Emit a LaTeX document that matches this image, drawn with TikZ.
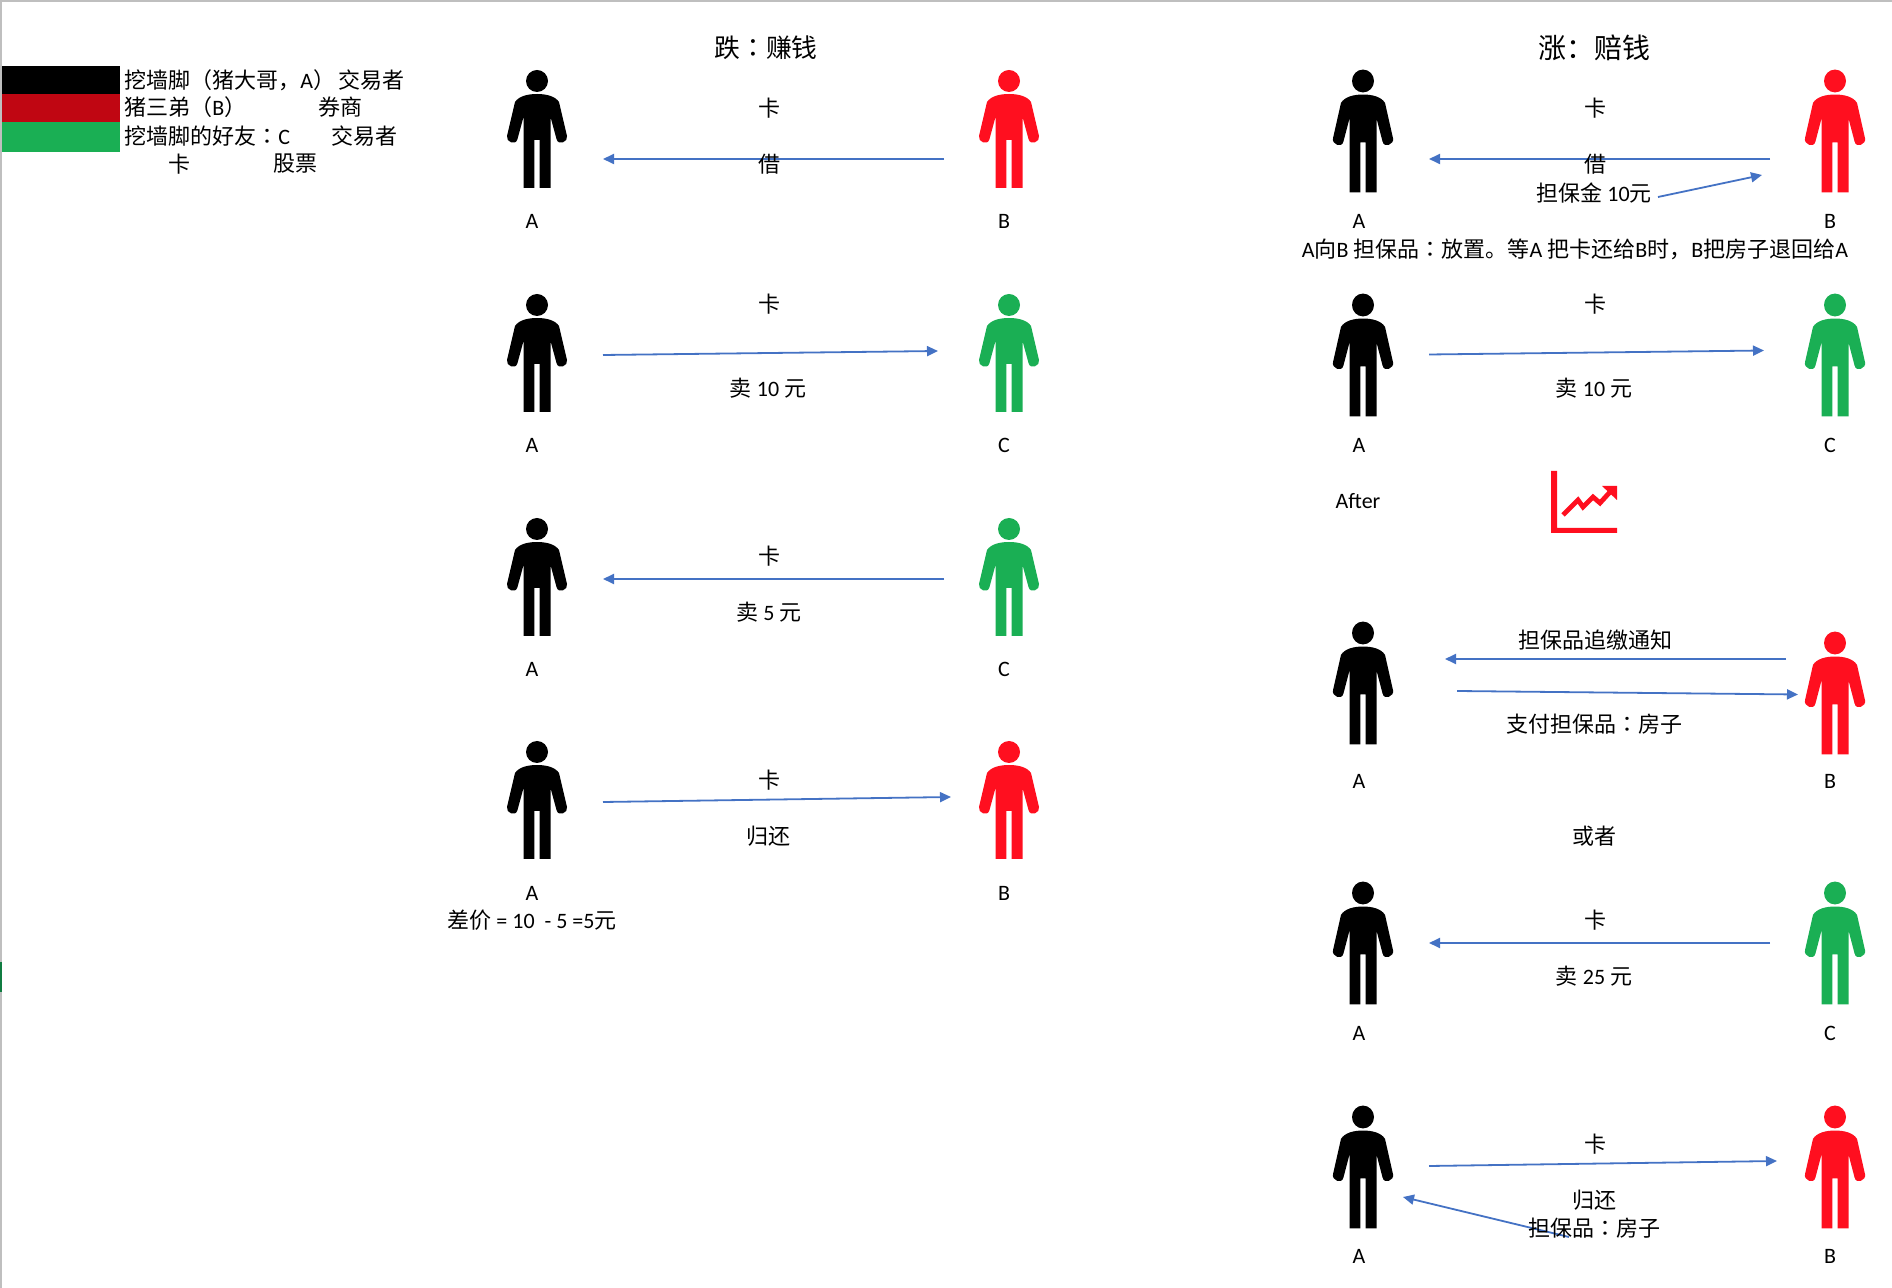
\documentclass[tikz,border=0pt]{standalone}
\usepackage{fontspec}
\setmainfont{Carlito}
\newfontfamily\cjk{Noto Sans CJK SC}
\newfontfamily\cjktc{Noto Sans CJK TC}
\usetikzlibrary{arrows.meta}
\newcommand{\zh}[1]{{\cjk #1}}
\newcommand{\mc}{{\cjktc ：}}
\definecolor{flow}{HTML}{4472C4}
\definecolor{pred}{HTML}{FF0F1F}
\definecolor{pgreen}{HTML}{1AAF54}
\definecolor{bandred}{HTML}{C00612}
\definecolor{edge}{HTML}{BFBFBF}
\definecolor{tick}{HTML}{107C41}
\tikzset{
  person/.pic={
    \path[pic actions] (0,0) ellipse [x radius=5.5pt, y radius=5.5pt];
    \path[pic actions] (0,13) .. controls (-9,13) and (-18,15) .. (-22,21)
      -- (-30,55) .. controls (-31.5,61) and (-21,65) .. (-19.5,58)
      -- (-13.5,36) -- (-13.5,107) -- (-2.7,107) -- (-2.7,59) -- (2.7,59)
      -- (2.7,107) -- (13.5,107) -- (13.5,36) -- (19.5,58)
      .. controls (21,65) and (31.5,61) .. (30,55)
      -- (22,21) .. controls (18,15) and (9,13) .. (0,13) -- cycle;
  },
  flowline/.style={draw=flow, line width=0.9pt, -{Triangle[length=5.5pt,width=5pt]}},
  txt/.style={inner sep=0pt, font=\fontsize{11}{13}\selectfont},
  legendtxt/.style={txt, anchor=west},
  title/.style={inner sep=0pt, font=\fontsize{12.9}{15}\selectfont},
  titleb/.style={inner sep=0pt, font=\fontsize{14}{16}\selectfont},
}
\begin{document}
\begin{tikzpicture}[x=0.5pt,y=-0.5pt]
\useasboundingbox (0,0) rectangle (1892,1288);
% frame edges
\fill[edge] (0,0) rectangle (1892,2);
\fill[edge] (0,0) rectangle (2,1288);
\fill[tick] (0,962) rectangle (2,992);
% legend
\fill[black] (2,66) rectangle (120,94);
\fill[bandred] (2,94) rectangle (120,122);
\fill[pgreen] (2,122) rectangle (120,152);
\node[legendtxt] (l1) at (124,80) {\zh{挖墙脚（猪大哥，}A\zh{）}};
\node[legendtxt] (l1r) at (338,80) {\zh{交易者}};
\node[legendtxt] (l2) at (124,107) {\zh{猪三弟（}B\zh{）}};
\node[legendtxt] (l2r) at (318,107) {\zh{券商}};
\node[legendtxt] (l3) at (124,136) {\zh{挖墙脚的好友}\mc C};
\node[legendtxt] (l3r) at (331,136) {\zh{交易者}};
\node[txt] (l4) at (179,164) {\zh{卡}};
\node[legendtxt] (l4r) at (273,164) {\zh{股票}};
% titles
\node[title] (t1) at (766,48) {\zh{跌}\mc\zh{赚钱}};
\node[titleb] (t2) at (1594,48) {\zh{涨：赔钱}};
% left persons
\pic[fill=black] at (537,81) {person};
\pic[fill=pred] at (1009,81) {person};
\pic[fill=black] at (537,305) {person};
\pic[fill=pgreen] at (1009,305) {person};
\pic[fill=black] at (537,529) {person};
\pic[fill=pgreen] at (1009,529) {person};
\pic[fill=black] at (537,752) {person};
\pic[fill=pred] at (1009,752) {person};
% right persons
\pic[fill=black,yscale=1.04] at (1363,81) {person};
\pic[fill=pred,yscale=1.04] at (1835,81) {person};
\pic[fill=black,yscale=1.04] at (1363,305) {person};
\pic[fill=pgreen,yscale=1.04] at (1835,305) {person};
\pic[fill=black,yscale=1.04] at (1363,633) {person};
\pic[fill=pred,yscale=1.04] at (1835,643) {person};
\pic[fill=black,yscale=1.04] at (1363,893) {person};
\pic[fill=pgreen,yscale=1.04] at (1835,893) {person};
\pic[fill=black,yscale=1.04] at (1363,1117) {person};
\pic[fill=pred,yscale=1.04] at (1835,1117) {person};
% arrow end points
\coordinate (a1s) at (944,159); \coordinate (a1e) at (603,159);
\coordinate (a2s) at (603,355); \coordinate (a2e) at (938,351);
\coordinate (a3s) at (944,579); \coordinate (a3e) at (603,579);
\coordinate (a4s) at (603,802); \coordinate (a4e) at (951,797);
\coordinate (b1s) at (1770,159); \coordinate (b1e) at (1429,159);
\coordinate (b2s) at (1658,197); \coordinate (b2e) at (1762,175);
\coordinate (b3s) at (1429,354.5); \coordinate (b3e) at (1764,350.5);
\coordinate (b4s) at (1786,659); \coordinate (b4e) at (1445,659);
\coordinate (b5s) at (1457,691); \coordinate (b5e) at (1798,694.5);
\coordinate (b6s) at (1770,943); \coordinate (b6e) at (1429,943);
\coordinate (b7s) at (1429,1166); \coordinate (b7e) at (1777,1161);
\coordinate (b8s) at (1569,1237); \coordinate (b8e) at (1403,1197);
\foreach \n in {a1,a2,a3,a4,b1,b2,b3,b4,b5,b6,b7,b8}
  \draw[flowline] (\n s) -- (\n e);
% left labels
\node[txt] (la1) at (769,108) {\zh{卡}};
\node[txt] (la2) at (769,164) {\zh{借}};
\node[txt] (la3) at (532,221) {A};
\node[txt] (la4) at (1004,221) {B};
\node[txt] (lb1) at (769,304) {\zh{卡}};
\node[txt] (lb2) at (768,388) {\zh{卖} 10 \zh{元}};
\node[txt] (lb3) at (532,445) {A};
\node[txt] (lb4) at (1004,445) {C};
\node[txt] (lc1) at (769,556) {\zh{卡}};
\node[txt] (lc2) at (769,612) {\zh{卖} 5 \zh{元}};
\node[txt] (lc3) at (532,669) {A};
\node[txt] (lc4) at (1004,669) {C};
\node[txt] (ld1) at (769,780) {\zh{卡}};
\node[txt] (ld2) at (768,836) {\zh{归还}};
\node[txt] (ld3) at (532,893) {A};
\node[txt] (ld4) at (1004,893) {B};
\node[txt] (ld5) at (532,920) {\zh{差价} = 10\ \ - 5 =5\zh{元}};
% right labels
\node[txt] (ra1) at (1595,108) {\zh{卡}};
\node[txt] (ra2) at (1595,164) {\zh{借}};
\node[txt] (ra3) at (1594,193) {\zh{担保金} 10\zh{元}};
\node[txt] (ra4) at (1359,221) {A};
\node[txt] (ra5) at (1830,221) {B};
\node[txt] (ra6) at (1575,249) {A\zh{向}B \zh{担保品}\mc\zh{放置。等}A \zh{把卡还给}B\zh{时，}B\zh{把房子退回给}A};
\node[txt] (rb1) at (1595,304) {\zh{卡}};
\node[txt] (rb2) at (1594,388) {\zh{卖} 10 \zh{元}};
\node[txt] (rb3) at (1359,445) {A};
\node[txt] (rb4) at (1830,445) {C};
\node[txt] (after) at (1358,501) {After};
% rising chart icon
\fill[pred] (1551,471) -- (1557,471) -- (1557,528) -- (1617,528) -- (1617,533) -- (1551,533) -- cycle;
\draw[pred, line width=2.4pt, line join=miter] (1563,515) -- (1578,500) -- (1583,507) -- (1593,497) -- (1600,503) -- (1610,492);
\fill[pred] (1602,486) -- (1617,486) -- (1617,500) -- cycle;
\node[txt] (rc1) at (1595,640) {\zh{担保品追缴通知}};
\node[txt] (rc2) at (1594,724) {\zh{支付担保品}\mc\zh{房子}};
\node[txt] (rc3) at (1359,781) {A};
\node[txt] (rc4) at (1830,781) {B};
\node[txt] (rc5) at (1594,836) {\zh{或者}};
\node[txt] (rd1) at (1595,920) {\zh{卡}};
\node[txt] (rd2) at (1594,976) {\zh{卖} 25 \zh{元}};
\node[txt] (rd3) at (1359,1033) {A};
\node[txt] (rd4) at (1830,1033) {C};
\node[txt] (re1) at (1595,1144) {\zh{卡}};
\node[txt] (re2) at (1594,1200) {\zh{归还}};
\node[txt] (re3) at (1594,1228) {\zh{担保品}\mc\zh{房子}};
\node[txt] (re4) at (1359,1256) {A};
\node[txt] (re5) at (1830,1256) {B};
\end{tikzpicture}
\end{document}
